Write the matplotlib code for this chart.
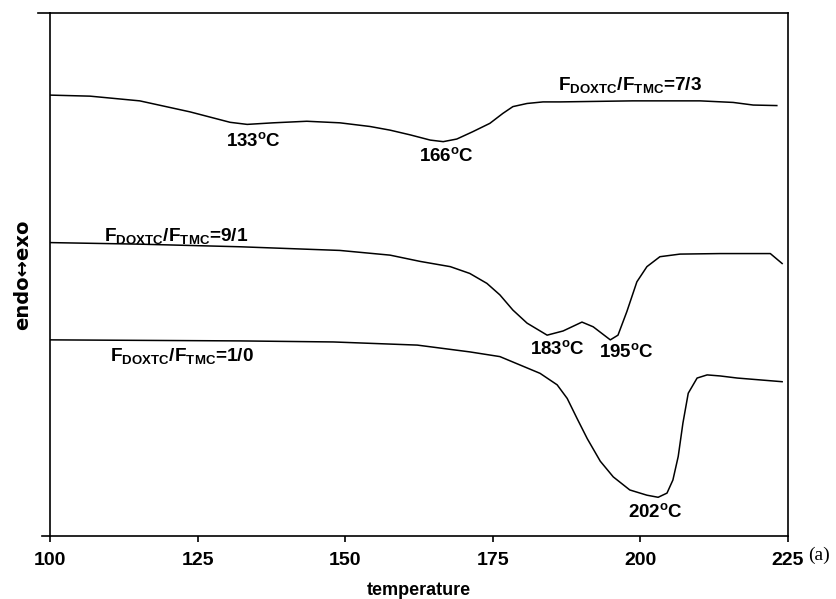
import numpy as np
import matplotlib.pyplot as plt

plt.rcParams['font.family'] = ['Liberation Sans', 'DejaVu Sans']
plt.rcParams['mathtext.fontset'] = 'custom'
plt.rcParams['mathtext.rm'] = 'Liberation Sans'
plt.rcParams['mathtext.bf'] = 'Liberation Sans:bold'

# DSC traces (temperature in degC, heat flow in arbitrary units)
t_73 = [100, 106.8, 115.2, 123.7, 130.5, 133.4, 137.8, 143.5, 149.1, 154.2,
        157.6, 161.0, 164.4, 166.6, 168.9, 171.6, 174.5, 176.7, 178.4, 180.8,
        183.5, 186.4, 198.7, 210.1, 215.7, 219.1, 223.1]
q_73 = [84.3, 84.1, 83.2, 81.1, 79.1, 78.7, 79.0, 79.3, 79.0, 78.3,
        77.6, 76.7, 75.7, 75.4, 75.9, 77.3, 78.9, 80.8, 82.1, 82.7,
        83.0, 83.0, 83.2, 83.2, 82.9, 82.4, 82.3]

t_91 = [100, 115.2, 132.2, 149.1, 157.6, 162.7, 167.8, 171.1, 174.0, 176.2,
        178.4, 180.8, 184.2, 186.9, 190.1, 192.0, 194.9, 196.2, 197.7, 199.4,
        201.1, 203.3, 206.7, 213.5, 222.0, 224.0]
q_91 = [56.1, 55.8, 55.3, 54.6, 53.7, 52.5, 51.5, 50.2, 48.3, 46.1,
        43.2, 40.7, 38.4, 39.2, 40.9, 40.0, 37.5, 38.4, 42.9, 48.6,
        51.5, 53.4, 53.9, 54.0, 54.0, 52.1]

t_10 = [100, 132.2, 148.0, 162.2, 171.1, 176.2, 179.6, 183.0, 185.9, 187.6,
        189.3, 191.0, 193.2, 195.4, 198.2, 201.1, 203.0, 204.5, 205.5, 206.4,
        207.2, 208.1, 209.6, 211.3, 213.5, 216.4, 224.0]
q_10 = [37.5, 37.3, 37.1, 36.5, 35.2, 34.3, 32.7, 31.1, 28.9, 26.3,
        22.4, 18.6, 14.3, 11.3, 8.8, 7.8, 7.4, 8.2, 10.7, 15.2,
        21.6, 27.3, 30.2, 30.8, 30.6, 30.2, 29.5]

ratio_labels = ['7/3', '9/1', '1/0']
peak_labels = ['133', '166', '183', '195', '202']

fig = plt.figure(figsize=(8.37, 5.99), dpi=100)
ax = fig.add_axes([0.0597, 0.1052, 0.8818, 0.8731])

for t, q in [(t_73, q_73), (t_91, q_91), (t_10, q_10)]:
    ax.plot(t, q, color='black', lw=1.1)

ax.set_xlim(100, 225)
ax.set_ylim(0, 100)
ax.set_xticks([100, 125, 150, 175, 200, 225])
ax.set_yticks([])
ax.tick_params(axis='x', direction='out', length=4.5, width=1.2, pad=7,
               labelsize=14)
for lab in ax.get_xticklabels():
    lab.set_fontweight('bold')
for s in ax.spines.values():
    s.set_linewidth(1.2)
ax.plot([-0.016, 0], [1, 1], transform=ax.transAxes, color='black', lw=1.2,
        clip_on=False)
ax.plot([-0.011, 0], [0, 0], transform=ax.transAxes, color='black', lw=1.2,
        clip_on=False)

ax.set_xlabel('temperature', fontsize=13, fontweight='bold', labelpad=9.5)
ax.set_ylabel('endo\u2194exo', fontsize=14, fontweight='bold', labelpad=13,
              family=['DejaVu Sans'])

def ratio(r):
    return r'$\mathbf{F_{DOXTC}/F_{TMC}}$=' + r

def peak(p):
    return r'$\mathbf{' + p + '^{o}C}$'

kw = dict(fontsize=13.7, fontweight='bold', ha='center', va='center')
ax.text(198.2, 86.2, ratio(ratio_labels[0]), **kw)
ax.text(121.3, 57.4, ratio(ratio_labels[1]), **kw)
ax.text(122.4, 34.4, ratio(ratio_labels[2]), **kw)

kw['fontsize'] = 13.5
ax.text(134.4, 75.5, peak(peak_labels[0]), **kw)
ax.text(167.1, 72.7, peak(peak_labels[1]), **kw)
ax.text(186.0, 35.8, peak(peak_labels[2]), **kw)
ax.text(197.7, 35.2, peak(peak_labels[3]), **kw)
ax.text(202.5, 4.6, peak(peak_labels[4]), **kw)

fig.text(0.978, 0.073, '(a)', fontsize=14, family='Liberation Serif',
         ha='center', va='center')

fig.savefig('out.png', dpi=100)
